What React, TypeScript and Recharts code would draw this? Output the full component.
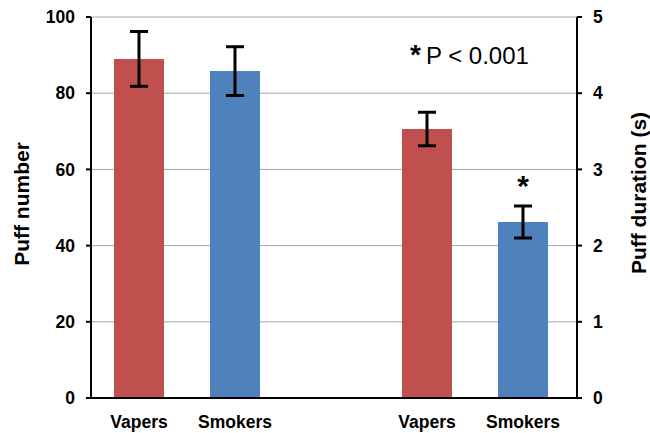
import React from 'react';
import {
  BarChart,
  Bar,
  XAxis,
  YAxis,
  CartesianGrid,
  ErrorBar,
  Cell,
  Label,
  LabelList,
} from 'recharts';

// groups on the x axis, the middle slot is an empty spacer
const categories = ['Vapers', 'Smokers', '', 'Vapers', 'Smokers'];
// left axis: puff number
const puffNumber = [89.0, 85.8, null, null, null];
const puffNumberErr = [7.2, 6.4, null, null, null];
// right axis: puff duration in seconds
const puffDuration = [null, null, null, 3.53, 2.31];
const puffDurationErr = [null, null, null, 0.22, 0.21];
const significance = ['', '', '', '', '*'];
const leftTicks = [0, 20, 40, 60, 80, 100];
const rightTicks = [0, 1, 2, 3, 4, 5];

const RED = '#C0504D';
const BLUE = '#4F81BD';
const FONT = 'Arial, "Liberation Sans", sans-serif';

const data = categories.map((cat, i) => ({
  cat,
  num: puffNumber[i],
  numErr: puffNumberErr[i],
  dur: puffDuration[i],
  durErr: puffDurationErr[i],
  sig: significance[i],
}));

const barColor = (cat: string) => (cat === 'Vapers' ? RED : BLUE);

const axisStyle = { stroke: '#000', strokeWidth: 2 };
const tickStyle = { fill: '#000', fontSize: 17.5, fontWeight: 'bold' as const, fontFamily: FONT };

export default function App() {
  return (
    <div style={{ position: 'absolute', left: 0, top: 0, width: 650, height: 433, background: '#fff' }}>
      <BarChart
        width={650}
        height={433}
        data={data}
        margin={{ top: 17, right: 0, bottom: 0, left: 0 }}
      >
        <CartesianGrid vertical={false} stroke="#A6A6A6" yAxisId="left" xAxisId="a" />
        <XAxis
          xAxisId="a"
          dataKey="cat"
          height={35}
          tickLine={false}
          axisLine={axisStyle}
          tick={tickStyle}
          tickMargin={12}
          interval={0}
          padding={{ left: 0, right: 6 }}
        />
        <XAxis xAxisId="b" dataKey="cat" hide padding={{ left: 0, right: 6 }} />
        <YAxis
          yAxisId="left"
          orientation="left"
          width={91}
          domain={[0, 100]}
          ticks={leftTicks}
          axisLine={axisStyle}
          tickLine={axisStyle}
          tickSize={5}
          tickMargin={11}
          tick={tickStyle}
        >
          <Label
            content={() => (
              <text
                x={21}
                y={204}
                transform={`rotate(-90 21 204)`}
                textAnchor="middle"
                dominantBaseline="central"
                fontSize={21}
                fontWeight="bold"
                fontFamily={FONT}
                fill="#000"
              >
                Puff number
              </text>
            )}
          />
        </YAxis>
        <YAxis
          yAxisId="right"
          orientation="right"
          width={73}
          domain={[0, 5]}
          ticks={rightTicks}
          axisLine={axisStyle}
          tickLine={axisStyle}
          tickSize={5}
          tickMargin={11}
          tick={tickStyle}
        >
          <Label
            content={() => (
              <text
                x={638}
                y={193}
                transform={`rotate(-90 638 193)`}
                textAnchor="middle"
                dominantBaseline="central"
                fontSize={21}
                fontWeight="bold"
                fontFamily={FONT}
                fill="#000"
              >
                Puff duration (s)
              </text>
            )}
          />
        </YAxis>
        <Bar
          dataKey="num"
          xAxisId="a"
          yAxisId="left"
          barSize={50}
          isAnimationActive={false}
        >
          {data.map((d, i) => (
            <Cell key={i} fill={barColor(d.cat)} />
          ))}
          <ErrorBar dataKey="numErr" width={9} stroke="#000" strokeWidth={3} />
        </Bar>
        <Bar
          dataKey="dur"
          xAxisId="b"
          yAxisId="right"
          barSize={50}
          isAnimationActive={false}
        >
          {data.map((d, i) => (
            <Cell key={i} fill={barColor(d.cat)} />
          ))}
          <ErrorBar dataKey="durErr" width={9} stroke="#000" strokeWidth={3} />
          <LabelList
            dataKey="sig"
            position="top"
            offset={26}
            fill="#000"
            fontSize={30}
            fontWeight="bold"
            fontFamily={FONT}
          />
        </Bar>
      </BarChart>
      <svg
        width={650}
        height={433}
        style={{ position: 'absolute', left: 0, top: 0, pointerEvents: 'none' }}
      >
        <text x={410} y={64} fontFamily={FONT} fill="#000">
          <tspan fontSize={28} fontWeight="bold">*</tspan>
          <tspan dx={5} fontSize={24}>P &lt; 0.001</tspan>
        </text>
      </svg>
    </div>
  );
}
